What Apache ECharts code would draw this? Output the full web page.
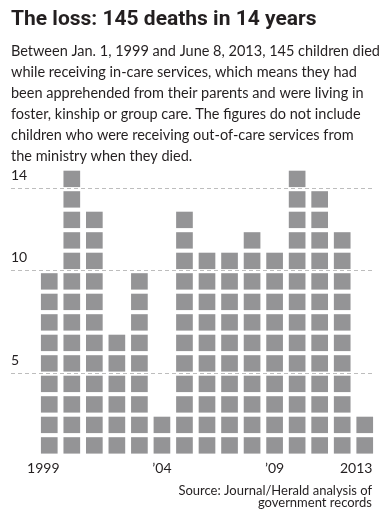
<!DOCTYPE html>
<html><head><meta charset="utf-8">
<script src="https://cdn.jsdelivr.net/npm/echarts@6/dist/echarts.min.js"></script>
<style>html,body{margin:0;padding:0;background:#fff}#c{width:385px;height:520px}</style>
</head><body><div id="c"></div>
<script>
// ---- data ----
const years = ['1999','2000','2001','2002','2003','2004','2005','2006','2007','2008','2009','2010','2011','2012','2013'];
const deaths = [9, 14, 12, 6, 9, 2, 12, 10, 10, 11, 10, 14, 13, 11, 2];
const xLabelYears = ['1999','2004','2009','2013'];
const xLabelTexts = ['1999','\u201904','\u201909','2013'];
const yTickValues = [5, 10, 14];
const yTickLabels = ['5', '10', '14'];
const titleText = 'The loss: 145 deaths in 14 years';
const bodyLines = [
  'Between Jan. 1, 1999 and June 8, 2013, 145 children died',
  'while receiving in-care services, which means they had',
  'been apprehended from their parents and were living in',
  'foster, kinship or group care. The figures do not include',
  'children who were receiving out-of-care services from',
  'the ministry when they died.'
];
const sourceLines = ['Source: Journal/Herald analysis of', 'government records'];

const TXT = '#231f20';
const SQ = '#949496';
const chart = echarts.init(document.getElementById('c'), null, {renderer: 'canvas'});
chart.setOption({
  animation: false,
  grid: [
    {left: 38, right: 9, top: 168, bottom: 65},
    {left: 11, right: 12, top: 168, bottom: 65}
  ],
  xAxis: [
    {type: 'category', gridIndex: 0, data: years,
     axisLine: {show: false}, axisTick: {show: false},
     axisLabel: {
       interval: (i, v) => xLabelYears.indexOf(v) >= 0,
       formatter: v => {
         const t = xLabelTexts[xLabelYears.indexOf(v)];
         if (v === '2013') return '{r|' + t + '}';
         if (v === '1999') return '{f|' + t + '}';
         return t;
       },
       margin: 6, color: TXT, fontFamily: 'Lato', fontSize: 14,
       rich: {r: {padding: [0, 17, 0, 0], fontFamily: 'Lato', fontSize: 14, color: TXT},
              f: {padding: [0, 12, 0, 0], fontFamily: 'Lato', fontSize: 14, color: TXT}}
     }},
    {type: 'value', gridIndex: 1, min: 0, max: 1, show: false}
  ],
  yAxis: [
    {type: 'value', gridIndex: 0, min: 1, max: 15, show: false},
    {type: 'value', gridIndex: 1, min: 1, max: 15, show: false}
  ],
  graphic: [
    {type: 'text', left: 11, top: 9, style: {text: titleText, font: 'bold 21px Roboto', fill: TXT}},
    {type: 'text', left: 11, top: 41, style: {text: bodyLines.join('\n'), font: '14.5px Lato', lineHeight: 21, fill: TXT}},
    {type: 'text', right: 13, top: 484, style: {text: sourceLines[0], font: '13px Lato', fill: TXT}},
    {type: 'text', right: 13, top: 496, style: {text: sourceLines[1], font: '13px Lato', fill: TXT}}
  ],
  series: [
    {type: 'line', xAxisIndex: 1, yAxisIndex: 1, data: [], silent: true,
     markLine: {
       symbol: 'none', silent: true, animation: false,
       lineStyle: {color: '#bdbdbd', type: [4, 3], width: 1},
       label: {position: 'insideStartTop', formatter: p => yTickLabels[yTickValues.indexOf(p.value)],
               color: TXT, fontFamily: 'Lato', fontSize: 14, distance: [0, 6]},
       data: yTickValues.map(v => ({yAxis: v}))
     }},
    {type: 'custom', xAxisIndex: 0, yAxisIndex: 0, z: 3,
     data: deaths.map((d, i) => [i, d]),
     renderItem: (params, api) => {
       const i = api.value(0), n = api.value(1);
       const size = api.size([1, 1]);
       const w = size[0] * 0.74, h = size[1] * 0.8;
       const children = [];
       for (let k = 1; k <= n; k++) {
         const p = api.coord([i, k]);
         children.push({type: 'rect', shape: {x: p[0] - w / 2, y: p[1] - 1.4 - h, width: w, height: h},
                        style: {fill: SQ}});
       }
       return {type: 'group', children: children};
     }}
  ]
});
</script></body></html>
